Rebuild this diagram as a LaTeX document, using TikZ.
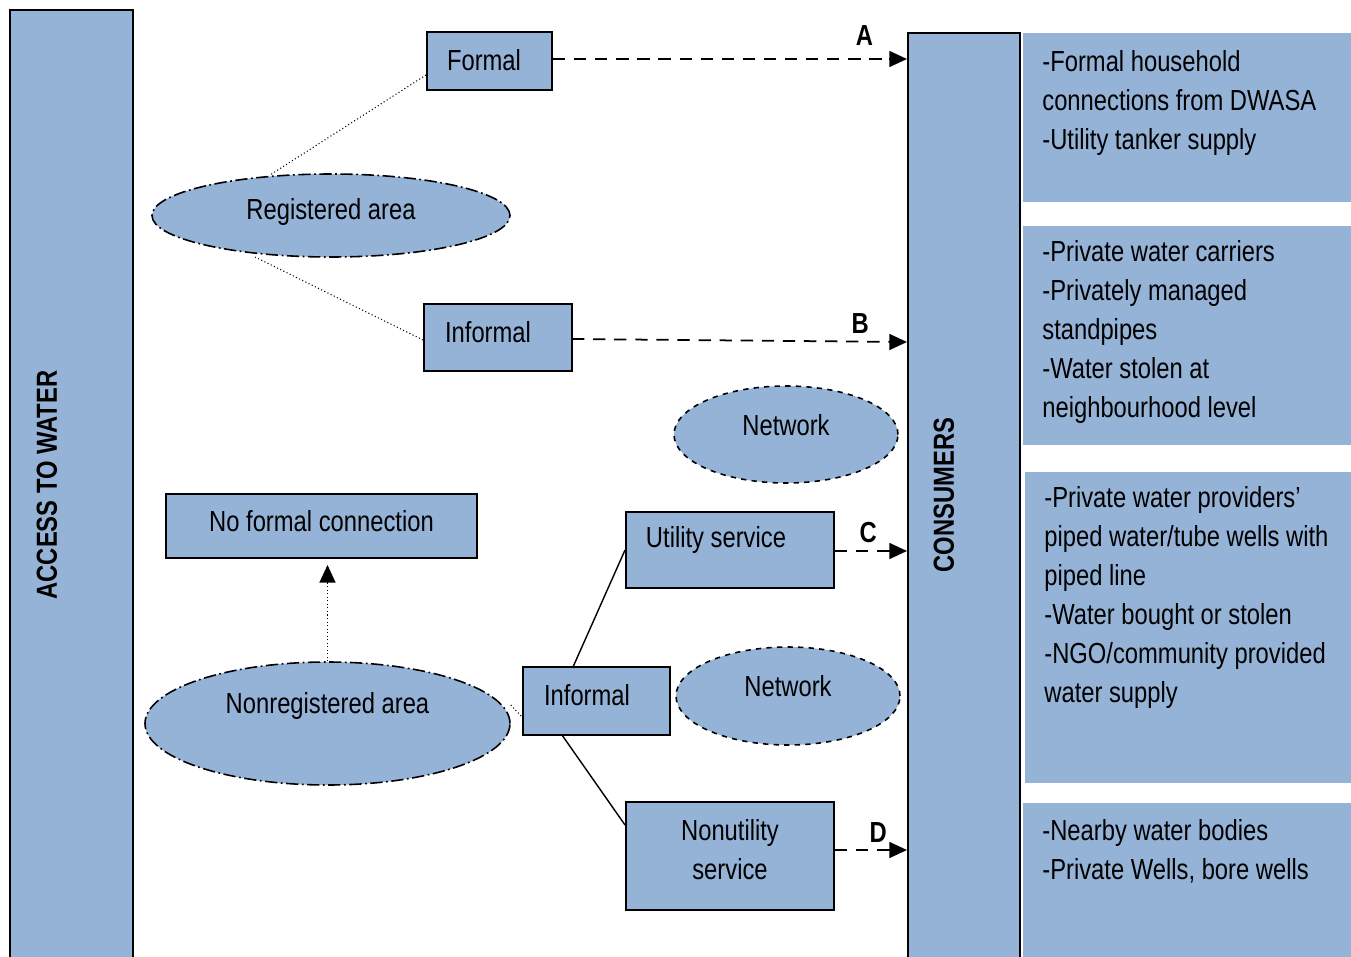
\documentclass[tikz,border=0pt]{standalone}
\usepackage{fontspec}
\setmainfont[FakeStretch=0.82]{Liberation Sans}
\usepackage{tikz}
\usetikzlibrary{arrows.meta,shapes.geometric,positioning}

\definecolor{paleblue}{RGB}{149,179,215}

\tikzset{
  box/.style={draw, line width=1.1pt, fill=paleblue, inner sep=0pt},
  area/.style={ellipse, draw, line width=0.9pt, fill=paleblue, inner sep=0pt,
    dash pattern=on 7pt off 2pt on 1pt off 2pt},
  net/.style={ellipse, draw, line width=0.9pt, fill=paleblue, inner sep=0pt, dashed},
  bar/.style={draw, line width=1.1pt, fill=paleblue, anchor=north west, inner sep=0pt},
  info/.style={fill=paleblue, anchor=north west, inner sep=0pt},
  lst/.style={anchor=north west, align=left, inner sep=0pt},
  flowtip/.style={-{Triangle[length=10pt,width=9pt]}, line width=1pt},
  flow/.style={line width=1pt, dash pattern=on 7pt off 5pt, shorten >=8pt},
  link/.style={line width=0.6pt, dash pattern=on 0.6pt off 1.4pt},
  lbl/.style={font=\fontsize{16.5}{20}\selectfont\bfseries, inner sep=2pt}
}

\begin{document}
\begin{tikzpicture}[font=\fontsize{16.5}{22.2}\selectfont]
  \useasboundingbox (0,0) rectangle (27.02,-19.14);
  \clip (0,0) rectangle (27.02,-19.14);

  % side bars
  \node[bar, minimum width=2.46cm, minimum height=19.4cm] (access) at (0.18,-0.18) {};
  \node[rotate=90, font=\fontsize{16.5}{20}\selectfont\bfseries] (accesstxt) at (0.94,-9.7) {ACCESS TO WATER};
  \node[bar, minimum width=2.24cm, minimum height=19cm] (consumers) at (18.14,-0.64) {};
  \node[rotate=90, font=\fontsize{16.5}{20}\selectfont\bfseries] (consumerstxt) at (18.88,-9.9) {CONSUMERS};

  % right hand lists
  \node[info, minimum width=6.6cm, minimum height=3.38cm] (list1) at (20.46,-0.66) {};
  \node[info, minimum width=6.6cm, minimum height=4.38cm] (list2) at (20.46,-4.52) {};
  \node[info, minimum width=6.6cm, minimum height=6.22cm] (list3) at (20.5,-9.44) {};
  \node[info, minimum width=6.6cm, minimum height=3.4cm]  (list4) at (20.46,-16.06) {};
  \node[lst] (txt1) at (20.84,-1.0) {-Formal household\\connections from DWASA\\-Utility tanker supply};
  \node[lst] (txt2) at (20.84,-4.8) {-Private water carriers\\-Privately managed\\standpipes\\-Water stolen at\\neighbourhood level};
  \node[lst] (txt3) at (20.88,-9.72) {-Private water providers'\\piped water/tube wells with\\piped line\\-Water bought or stolen\\-NGO/community provided\\water supply};
  \node[lst] (txt4) at (20.84,-16.38) {-Nearby water bodies\\-Private Wells, bore wells};

  % registered area
  \node[box, minimum width=2.5cm, minimum height=1.16cm] (formal) at (9.79,-1.22) {};
  \node (formaltxt) at (9.68,-1.2) {Formal};
  \node[area, minimum width=7.16cm, minimum height=1.66cm] (registered) at (6.62,-4.31) {};
  \node (registeredtxt) at (6.62,-4.24) {Registered area};
  \node[box, minimum width=2.96cm, minimum height=1.34cm] (informal) at (9.96,-6.75) {};
  \node (informaltxt) at (9.76,-6.64) {Informal};
  \node[net, minimum width=4.48cm, minimum height=1.94cm] (network) at (15.72,-8.69) {};
  \node (networktxt) at (15.72,-8.5) {Network};

  % nonregistered area
  \node[box, minimum width=6.22cm, minimum height=1.28cm] (noformal) at (6.43,-10.52) {};
  \node (noformaltxt) at (6.43,-10.43) {No formal connection};
  \node[area, minimum width=7.3cm, minimum height=2.46cm] (nonregistered) at (6.55,-14.47) {};
  \node (nonregtxt) at (6.55,-14.12) {Nonregistered area};
  \node[box, minimum width=2.94cm, minimum height=1.36cm] (informal2) at (11.93,-14.02) {};
  \node (informal2txt) at (11.74,-13.9) {Informal};
  \node[net, minimum width=4.48cm, minimum height=1.96cm] (network2) at (15.76,-13.92) {};
  \node (network2txt) at (15.76,-13.72) {Network};
  \node[box, minimum width=4.16cm, minimum height=1.52cm] (utility) at (14.6,-11) {};
  \node (utilitytxt) at (14.32,-10.8) {Utility service};
  \node[box, minimum width=4.16cm, minimum height=2.16cm] (nonutility) at (14.6,-17.12) {};
  \node[align=center] (nonutilitytxt) at (14.6,-17) {Nonutility\\service};

  % links
  \draw[link] (formal.west |- 0,-1.5) -- (5.4,-3.5);
  \draw[link] (5.1,-5.14) -- (informal.west |- 0,-6.8);
  \draw[link] (nonregistered.east |- 0,-14.1) -- (informal2.west |- 0,-14.34);
  \coordinate (nfend) at ([yshift=-0.12cm]noformal.south -| nonregistered.north);
  \draw[link, shorten >=8pt] (nonregistered.north) -- (nfend);
  \draw[flowtip] ([yshift=-10pt]nfend) -- (nfend);
  \draw[line width=0.8pt] (11.46,-13.34) -- (utility.west |- 0,-11);
  \draw[line width=0.8pt] (11.24,-14.7) -- (nonutility.west |- 0,-16.5);

  % flows to consumers
  \coordinate (aend) at (18.14,-1.18);
  \coordinate (bend) at (18.14,-6.84);
  \coordinate (bstart) at (11.44,-6.78);
  \coordinate (cend) at (18.14,-11.02);
  \coordinate (dend) at (18.14,-17);
  \draw[flow] (formal.east |- aend) -- node[lbl, above=5pt, pos=0.88] {A} (aend);
  \draw[flow] (bstart) -- node[lbl, above=2pt, pos=0.86] {B} (bend);
  \draw[flow] (utility.east |- cend) -- node[lbl, above=2pt, pos=0.46] {C} (cend);
  \draw[flow] (nonutility.east |- dend) -- node[lbl, above=2pt, pos=0.6] {D} (dend);
  \foreach \e in {aend,bend,cend,dend}
    \draw[flowtip] ([xshift=-10pt]\e) -- (\e);
\end{tikzpicture}
\end{document}
